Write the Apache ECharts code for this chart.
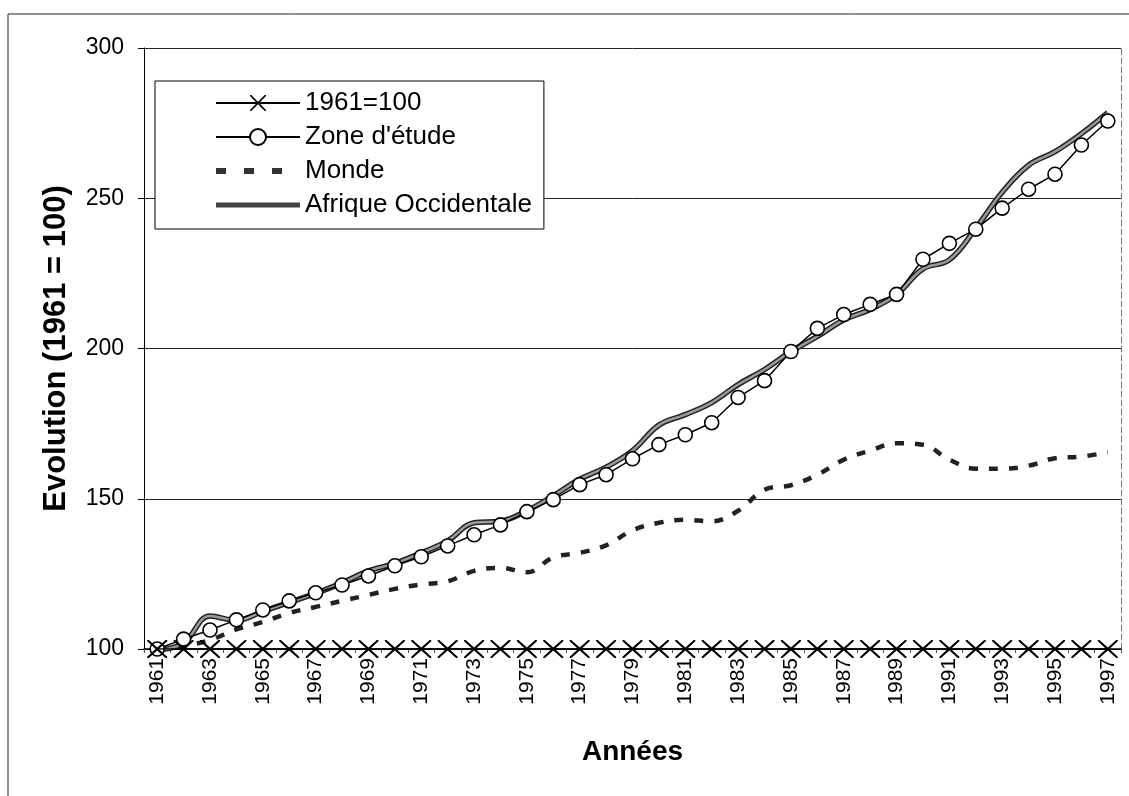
<!DOCTYPE html>
<html>
<head>
<meta charset="utf-8">
<script src="https://cdn.jsdelivr.net/npm/echarts@6/dist/echarts.min.js"></script>
<style>
  html, body { margin: 0; padding: 0; background: #fff; }
  #main { width: 1129px; height: 796px; }
</style>
</head>
<body>
<div id="main"></div>
<script>
// années 1961..1997
const years = [];
for (let y = 1961; y <= 1997; y++) years.push(String(y));

// valeurs (indice 1961 = 100)
const base = [100,100,100,100,100,100,100,100,100,100,100,100,100,100,100,100,100,100,100,
  100,100,100,100,100,100,100,100,100,100,100,100,100,100,100,100,100,100];
const zoneEtude = [100,103.3,106.3,109.7,113,116,118.7,121.3,124.3,127.7,130.7,134.3,138,141.3,
  145.7,149.7,154.7,158,163.3,168,171.3,175.3,183.7,189.3,199,206.7,211.3,214.7,218,229.7,235,
  239.7,246.7,253,258,267.7,275.7];
const monde = [100,101,103,106.5,109,112,114,116,118,120,121.5,122.5,126,127,125.5,130.5,132,
  134.5,139.5,142,143,142.5,146,153,154.5,158,163,166,168.5,168,163,160,160,161,163.5,164,165.5];
const afriqueOcc = [99.5,102,111,109.5,112.5,115.5,118.5,122,126,128.5,132,136,142,142.5,146,151,
  156.5,160.5,166,174.5,178,182,188,193,199,204,209.5,213,218,226.5,229.5,240,252,261,265.5,
  271.5,278.5];

const yTicks = [100, 150, 200, 250, 300];

const FONT = 'Liberation Sans, Arial, sans-serif';
const crossPath = 'path://M0,0L1.6,0L10,8.4L18.4,0L20,0L20,1.4L11.6,10L20,18.6L20,20L18.4,20L10,11.6L1.6,20L0,20L0,18.6L8.4,10L0,1.4Z';

const chart = echarts.init(document.getElementById('main'));

const option = {
  backgroundColor: '#fff',
  animation: false,
  textStyle: { fontFamily: FONT, color: '#000' },
  graphic: [
    {
      type: 'rect',
      shape: { x: 8, y: 14, width: 1140, height: 800 },
      style: { fill: 'none', stroke: '#222', lineWidth: 1 },
      silent: true
    }
  ],
  grid: { left: 144, top: 48, right: 8, bottom: 147, containLabel: false },
  legend: {
    orient: 'vertical',
    left: 155,
    top: 81,
    data: [
      { name: '1961=100' },
      { name: "Zone d'étude" },
      { name: 'Monde', itemStyle: { opacity: 0 }, lineStyle: { width: 6, type: [10, 18], color: '#333' } },
      { name: 'Afrique Occidentale', itemStyle: { opacity: 0 }, lineStyle: { width: 5, color: '#444' } }
    ],
    backgroundColor: '#fff',
    borderColor: '#000',
    borderWidth: 1,
    padding: [9, 12, 11, 58],
    itemWidth: 84,
    itemHeight: 20,
    itemGap: 8,
    textStyle: { fontSize: 26, color: '#000', fontFamily: FONT }
  },
  xAxis: {
    type: 'category',
    data: years,
    boundaryGap: true,
    name: 'Années',
    nameLocation: 'middle',
    nameGap: 89,
    nameTextStyle: { fontSize: 28, fontWeight: 'bold', color: '#000' },
    axisLine: { lineStyle: { color: '#000', width: 1.5 } },
    axisTick: { show: true, interval: 0, length: 4, alignWithLabel: false, lineStyle: { color: '#555' } },
    axisLabel: { rotate: 90, interval: 1, fontSize: 21, color: '#000', margin: 9 }
  },
  yAxis: [
    {
      type: 'value',
      min: yTicks[0],
      max: yTicks[yTicks.length - 1],
      interval: 50,
      name: 'Evolution (1961 = 100)',
      nameLocation: 'middle',
      nameRotate: 90,
      nameGap: 72,
      nameTextStyle: { fontSize: 31, fontWeight: 'bold', color: '#000' },
      axisLine: { show: true, lineStyle: { color: '#000', width: 1 } },
      axisTick: { show: true, length: 6, lineStyle: { color: '#000' } },
      axisLabel: { fontSize: 23, color: '#000', margin: 20 },
      splitLine: { show: true, lineStyle: { color: '#222', width: 1 } }
    },
    {
      type: 'value',
      position: 'right',
      min: yTicks[0],
      max: yTicks[yTicks.length - 1],
      interval: 50,
      axisLine: { show: true, lineStyle: { color: '#777', width: 1, type: [6, 3] } },
      axisTick: { show: false },
      axisLabel: { show: false },
      splitLine: { show: false }
    }
  ],
  series: [
    {
      name: 'Monde',
      type: 'line',
      data: monde,
      smooth: 0.4,
      symbol: 'none',
      lineStyle: { color: '#222', width: 4.5, type: [9, 11] },
      itemStyle: { color: '#222' },
      z: 2
    },
    {
      name: 'Afrique Occidentale',
      type: 'line',
      data: afriqueOcc,
      smooth: 0.4,
      symbol: 'none',
      lineStyle: { color: '#222', width: 5.5 },
      itemStyle: { color: '#222' },
      z: 3
    },
    {
      name: 'Afrique Occidentale (int.)',
      type: 'line',
      data: afriqueOcc,
      smooth: 0.4,
      symbol: 'none',
      lineStyle: { color: '#9a9a9a', width: 2.5 },
      z: 4
    },
    {
      name: "Zone d'étude",
      type: 'line',
      data: zoneEtude,
      symbol: 'circle',
      symbolSize: 14,
      showAllSymbol: true,
      lineStyle: { color: '#000', width: 1.5 },
      itemStyle: { color: '#fff', borderColor: '#000', borderWidth: 1.6 },
      z: 5
    },
    {
      name: '1961=100',
      type: 'line',
      data: base,
      symbol: crossPath,
      symbolSize: [20, 18],
      showAllSymbol: true,
      lineStyle: { color: '#000', width: 1.5 },
      itemStyle: { color: '#000' },
      z: 6
    }
  ]
};

chart.setOption(option);
</script>
</body>
</html>
